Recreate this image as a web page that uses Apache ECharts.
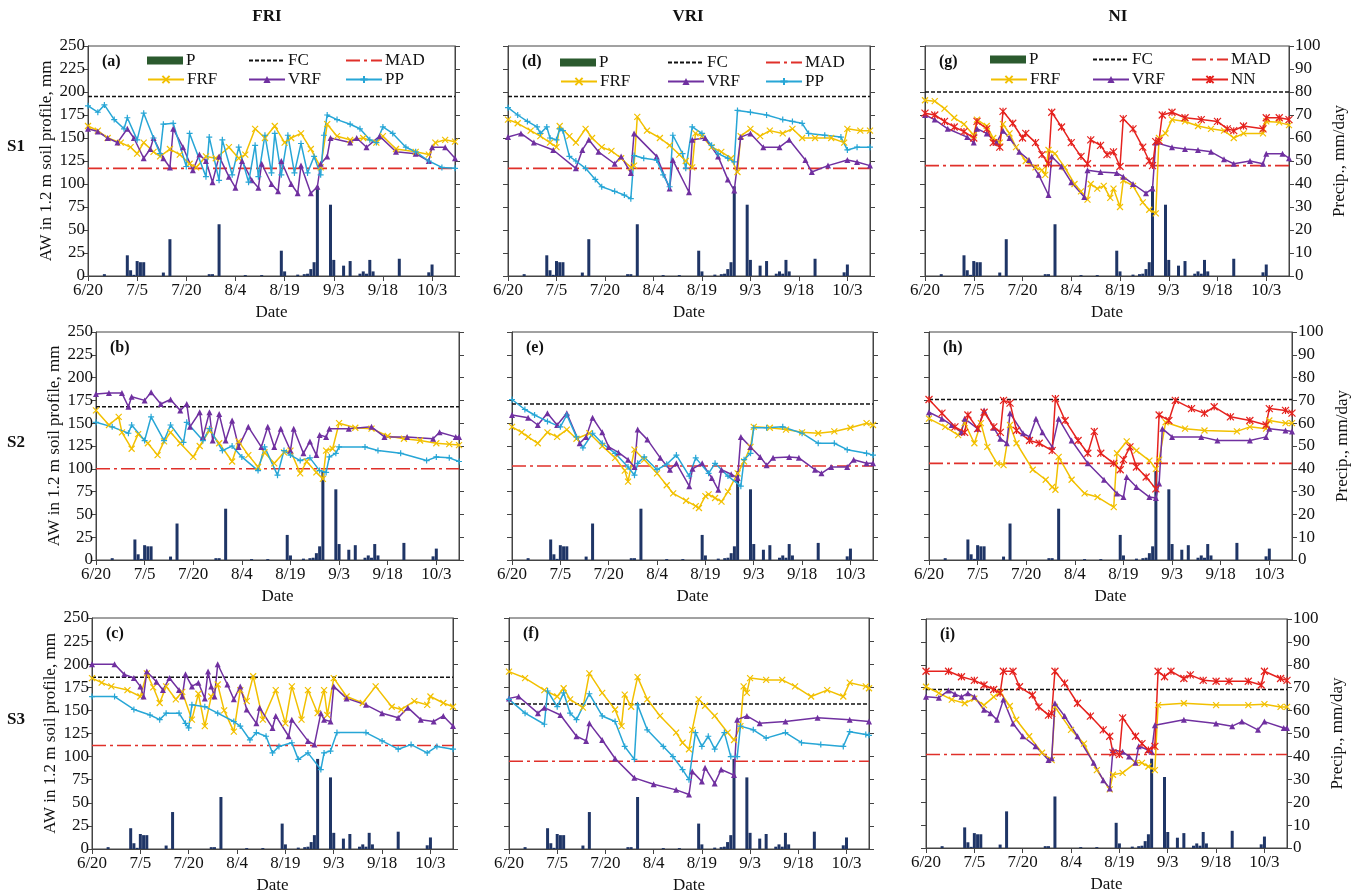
<!DOCTYPE html>
<html>
<head>
<meta charset="utf-8">
<script src="https://cdn.jsdelivr.net/npm/echarts@6/dist/echarts.min.js"></script>
<style>
html, body { margin: 0; background: #fff; }
#chart { width: 1352px; height: 892px; }
</style>
</head>
<body>
<div id="chart"></div>
<script>
// day 0 = 6/20, one tick every 15 days
const dateLabels = ['6/20', '7/5', '7/20', '8/4', '8/19', '9/3', '9/18', '10/3'];

// precipitation, mm/day (right axis)
const precipDays = [5, 12, 13, 14, 15, 16, 17, 23, 25, 37, 38, 40, 48, 53, 59, 60, 64, 66, 67, 68, 69, 70, 74, 75, 78, 80, 83, 84, 85, 86, 87, 95, 104, 105];
const precipMm = [0.8, 9, 2.5, 0.5, 6.5, 6, 6, 1.5, 16, 0.8, 0.8, 22.5, 0.4, 0.4, 11, 2, 0.6, 0.8, 1, 3, 6, 39, 31, 7, 4.5, 6.5, 1, 2, 1, 7, 2, 7.5, 1.6, 5];

// panels a..i : FC and MAD levels (mm)
const panelIds = ['a', 'b', 'c', 'd', 'e', 'f', 'g', 'h', 'i'];
const fcLevel = [195, 168, 186, 195, 171, 157, 200, 176, 173];
const madLevel = [117, 100, 112, 117, 103, 95, 120, 106, 102];

// FRI, S1
const frfA = [[0,163],[3,158],[6,150],[10,145],[13,140],[15,133],[17,145],[20,135],[22,130],[25,138],[28,132],[31,122],[33,118],[36,130],[39,128],[43,140],[46,128],[48,132],[51,160],[54,150],[57,163],[60,145],[62,150],[65,155],[68,138],[71,118],[73,165],[76,152],[80,148],[84,150],[88,145],[90,152],[94,138],[100,135],[104,132],[106,145],[109,148],[112,146]];
const vrfA = [[0,160],[3,157],[6,150],[9,145],[12,160],[14,150],[17,128],[19,138],[20,150],[23,128],[25,118],[26,160],[29,140],[32,115],[34,132],[36,125],[38,102],[40,130],[43,108],[45,96],[47,125],[50,104],[52,96],[53,122],[56,100],[58,92],[59,125],[62,100],[64,90],[65,120],[68,90],[70,97],[71,122],[73,130],[74,150],[80,145],[82,150],[85,140],[89,152],[94,135],[100,133],[104,125],[105,140],[109,140],[112,128]];
const ppA = [[0,185],[3,178],[5,186],[8,170],[11,160],[12,172],[15,148],[17,177],[20,150],[22,133],[23,165],[26,166],[30,119],[31,155],[36,108],[37,151],[40,104],[41,148],[44,110],[46,140],[49,102],[51,142],[52,108],[54,153],[56,112],[57,155],[59,110],[61,153],[63,112],[65,144],[67,112],[69,130],[71,110],[72,153],[73,175],[76,170],[80,165],[83,160],[86,148],[88,145],[90,162],[93,155],[97,140],[100,135],[104,125],[108,118],[112,117]];
// FRI, S2
const frfB = [[0,164],[4,148],[7,157],[8,140],[11,122],[13,138],[16,128],[19,115],[21,130],[23,140],[26,128],[30,113],[32,125],[35,142],[38,128],[42,108],[44,130],[47,115],[50,102],[52,118],[55,106],[58,118],[60,120],[63,95],[65,108],[68,96],[70,89],[71,120],[73,122],[75,150],[80,145],[85,144],[90,136],[95,133],[100,131],[105,128],[109,127],[112,126]];
const vrfB = [[0,182],[4,183],[8,183],[10,168],[11,179],[15,175],[17,184],[20,171],[23,176],[26,164],[28,171],[29,146],[32,162],[33,135],[35,162],[36,131],[38,160],[40,131],[42,153],[44,124],[47,146],[51,124],[53,146],[55,124],[57,144],[60,120],[61,144],[64,117],[66,130],[68,115],[69,137],[71,135],[72,144],[78,144],[85,146],[89,135],[96,135],[104,133],[106,140],[111,135],[112,135]];
const ppB = [[0,151],[5,146],[10,139],[11,148],[15,131],[17,157],[21,131],[23,148],[27,129],[28,151],[33,131],[35,144],[39,120],[42,125],[45,113],[50,98],[52,124],[56,93],[58,120],[60,115],[63,109],[66,112],[69,98],[71,96],[72,113],[74,117],[75,124],[83,124],[87,120],[94,117],[102,109],[105,113],[109,112],[112,108]];
// FRI, S3
const frfC = [[0,185],[3,180],[6,176],[11,172],[15,165],[17,190],[19,175],[21,158],[23,176],[26,162],[28,170],[31,140],[33,168],[35,133],[37,165],[39,178],[41,150],[44,127],[46,172],[48,160],[50,187],[53,140],[57,172],[60,136],[62,176],[65,140],[67,172],[70,147],[72,172],[73,145],[75,185],[79,165],[84,158],[88,176],[93,154],[96,151],[100,160],[104,156],[105,165],[109,158],[112,154]];
const vrfC = [[0,200],[7,200],[10,189],[13,185],[15,176],[16,165],[17,192],[20,181],[22,172],[24,185],[27,172],[28,165],[29,189],[31,176],[33,180],[35,163],[36,192],[37,176],[38,165],[39,200],[42,178],[44,162],[46,176],[48,151],[51,136],[52,153],[56,131],[57,144],[61,122],[62,140],[67,117],[69,113],[71,147],[72,140],[74,138],[75,176],[79,163],[85,156],[90,147],[95,142],[98,153],[102,140],[106,138],[109,144],[112,133]];
const ppC = [[0,165],[7,165],[13,151],[18,145],[21,140],[23,147],[27,147],[29,136],[30,131],[31,156],[35,154],[39,147],[44,138],[46,133],[49,118],[51,126],[54,122],[56,104],[58,111],[62,115],[64,97],[67,104],[71,86],[72,104],[74,106],[76,126],[85,126],[90,117],[95,108],[99,113],[104,104],[107,111],[112,108]];

// VRI, S1
const frfD = [[0,170],[3,166],[7,158],[10,152],[13,145],[15,140],[16,163],[19,152],[21,145],[24,160],[26,150],[29,140],[32,136],[35,128],[38,118],[39,120],[40,173],[43,158],[47,150],[50,142],[53,132],[55,125],[57,118],[58,155],[60,152],[63,140],[66,135],[69,128],[71,113],[72,152],[75,160],[78,152],[81,158],[85,155],[88,160],[91,150],[95,150],[100,150],[104,145],[105,160],[109,158],[112,158]];
const vrfD = [[0,151],[4,155],[8,145],[14,137],[21,117],[23,137],[25,148],[28,135],[33,122],[35,130],[38,112],[39,155],[46,130],[50,95],[51,126],[56,91],[57,148],[61,150],[65,130],[68,105],[70,93],[72,151],[75,155],[79,140],[84,140],[87,148],[92,126],[94,113],[99,120],[105,126],[108,124],[112,120]];
const ppD = [[0,183],[3,175],[6,168],[9,162],[10,155],[12,162],[13,150],[15,148],[16,160],[17,158],[19,130],[21,125],[24,117],[27,105],[29,97],[33,92],[36,88],[38,84],[39,131],[42,128],[46,126],[48,110],[50,97],[51,153],[54,133],[55,117],[57,162],[60,155],[63,142],[65,133],[68,128],[70,124],[71,180],[75,178],[80,175],[85,170],[88,168],[91,166],[93,155],[98,153],[103,151],[105,137],[108,140],[112,140]];
// VRI, S2
const frfE = [[0,146],[3,140],[5,135],[8,128],[11,140],[14,135],[17,143],[20,133],[24,139],[28,125],[32,112],[35,98],[36,86],[38,121],[41,110],[45,95],[48,82],[50,73],[54,65],[57,59],[58,57],[60,70],[61,72],[63,68],[65,64],[67,75],[70,95],[72,108],[74,124],[75,146],[80,145],[85,143],[90,140],[95,139],[100,141],[105,145],[110,150],[112,148]];
const vrfE = [[0,159],[5,156],[8,148],[11,161],[14,148],[17,161],[21,128],[23,135],[25,156],[28,140],[30,124],[33,118],[36,110],[38,102],[39,143],[42,132],[46,112],[49,99],[51,106],[55,81],[56,100],[59,106],[62,90],[64,77],[65,99],[68,94],[70,90],[71,135],[74,124],[77,113],[79,104],[81,112],[86,113],[89,112],[94,99],[96,95],[99,102],[104,102],[106,110],[110,106],[112,106]];
const ppE = [[0,176],[4,165],[7,159],[11,152],[15,146],[17,159],[20,135],[22,123],[25,139],[28,128],[32,117],[36,102],[38,93],[39,106],[41,113],[45,99],[48,105],[51,115],[55,92],[57,112],[61,95],[63,106],[67,92],[71,81],[72,110],[74,117],[75,145],[79,145],[84,146],[90,139],[95,128],[100,128],[104,121],[110,117],[112,115]];
// VRI, S3
const frfF = [[0,192],[5,185],[11,172],[15,165],[17,174],[19,162],[23,153],[25,190],[29,169],[33,151],[35,133],[36,167],[38,154],[40,186],[43,162],[47,144],[52,126],[54,115],[56,108],[57,129],[59,162],[61,155],[64,144],[68,126],[70,118],[72,133],[73,176],[74,169],[75,185],[80,183],[85,183],[89,176],[94,165],[99,172],[104,165],[106,180],[111,176],[112,174]];
const vrfF = [[0,163],[3,165],[9,147],[11,153],[16,145],[21,122],[24,117],[25,136],[29,118],[33,98],[39,77],[45,70],[52,64],[56,59],[57,84],[60,73],[61,88],[64,71],[66,86],[70,80],[71,140],[74,144],[78,136],[86,138],[96,142],[106,140],[112,138]];
const ppF = [[0,162],[5,147],[11,135],[12,171],[15,154],[17,169],[19,147],[21,140],[25,168],[29,144],[33,138],[36,111],[39,97],[40,156],[43,129],[48,111],[51,100],[54,86],[56,75],[58,126],[60,111],[62,122],[64,108],[67,126],[69,100],[71,100],[72,133],[76,129],[80,120],[86,126],[91,115],[97,113],[104,111],[106,127],[111,124],[112,123]];

// NI, S1
const frfG = [[0,191],[3,190],[6,182],[9,172],[12,165],[15,153],[16,170],[19,163],[21,150],[23,145],[24,165],[26,155],[28,140],[31,125],[34,118],[36,115],[37,110],[38,137],[40,133],[43,118],[46,100],[48,92],[50,83],[51,100],[53,95],[55,98],[57,85],[58,95],[60,75],[61,104],[64,98],[67,80],[69,72],[71,68],[72,150],[74,155],[76,170],[80,168],[84,163],[88,160],[92,158],[95,150],[98,155],[104,155],[105,168],[109,167],[112,164]];
const vrfG = [[0,175],[3,170],[7,160],[13,151],[15,145],[16,160],[19,155],[22,145],[24,158],[26,150],[29,135],[32,126],[35,110],[38,88],[39,130],[42,119],[45,102],[49,86],[50,115],[54,113],[59,112],[61,108],[64,100],[68,90],[70,95],[71,145],[76,140],[80,138],[84,137],[88,135],[92,127],[95,122],[100,125],[104,122],[105,133],[110,133],[112,128]];
const nnG = [[0,177],[3,175],[6,168],[9,162],[12,157],[15,150],[16,168],[19,160],[21,145],[23,140],[24,179],[27,166],[30,150],[31,155],[34,145],[36,132],[38,122],[39,178],[42,162],[45,145],[48,130],[50,122],[51,148],[54,142],[56,132],[58,135],[60,119],[61,171],[64,160],[67,140],[69,125],[70,120],[71,146],[72,147],[73,175],[76,178],[80,172],[85,170],[90,168],[93,160],[95,158],[98,163],[104,160],[105,172],[109,172],[112,170]];
// NI, S2
const frfH = [[0,155],[5,146],[9,137],[11,150],[14,128],[16,150],[18,124],[21,106],[23,104],[25,148],[27,128],[32,99],[36,88],[38,80],[39,77],[40,113],[44,88],[48,73],[52,69],[57,58],[58,117],[61,130],[64,120],[68,109],[70,100],[71,110],[73,151],[79,144],[85,142],[95,141],[99,146],[104,144],[105,153],[110,150],[112,150]];
const vrfH = [[0,162],[4,155],[7,148],[10,140],[11,155],[15,144],[17,164],[20,145],[22,133],[24,128],[25,161],[29,139],[31,135],[33,155],[35,140],[38,124],[40,155],[44,131],[49,106],[54,88],[58,73],[60,69],[61,91],[64,80],[68,69],[70,68],[71,84],[72,144],[75,135],[84,135],[89,131],[99,131],[104,135],[105,144],[110,142],[112,141]];
const nnH = [[0,176],[4,161],[8,146],[11,140],[12,159],[15,144],[17,162],[20,146],[22,140],[23,175],[25,172],[27,142],[31,131],[34,128],[38,120],[39,177],[42,153],[46,131],[49,117],[51,141],[53,117],[57,106],[59,99],[60,110],[62,124],[64,102],[67,91],[70,78],[71,159],[74,153],[76,175],[81,166],[85,161],[88,168],[93,157],[99,153],[104,148],[105,166],[110,164],[112,161]];
// NI, S3
const frfI = [[0,176],[4,169],[8,162],[12,158],[15,163],[18,156],[21,165],[23,170],[26,155],[28,140],[32,122],[36,104],[39,96],[40,154],[45,129],[49,114],[53,85],[57,64],[58,80],[61,82],[65,93],[67,93],[69,89],[71,85],[72,156],[80,158],[90,156],[100,156],[105,157],[110,154],[112,154]];
const vrfI = [[0,165],[4,164],[7,172],[9,168],[11,165],[13,169],[15,165],[18,151],[20,147],[22,140],[24,162],[27,136],[30,122],[34,111],[38,96],[39,98],[40,158],[43,144],[47,122],[52,93],[55,74],[57,65],[58,107],[61,105],[63,100],[65,93],[66,111],[69,107],[70,105],[71,134],[80,140],[90,136],[95,133],[98,138],[103,129],[105,138],[111,131],[112,131]];
const nnI = [[0,193],[7,193],[11,187],[15,183],[18,178],[21,173],[23,169],[24,193],[27,193],[29,176],[33,167],[35,154],[38,145],[39,147],[40,193],[43,180],[47,158],[51,144],[55,129],[57,122],[58,104],[60,102],[61,142],[65,122],[67,114],[69,107],[71,111],[72,193],[74,187],[76,193],[80,185],[82,189],[86,183],[90,182],[94,182],[100,182],[104,178],[105,193],[110,185],[112,183]];

const FONT = '"Liberation Serif", "Times New Roman", serif';
const C_FRF = '#f2c000', C_VRF = '#7030a0', C_PP = '#27a6d6', C_NN = '#e5221e';
const symX = 'path://M0,0L10,10M0,10L10,0';
const symPlus = 'path://M5,0L5,10M0,5L10,5';
const symStar = 'path://M0,0L10,10M0,10L10,0M5,0L5,10';

// page boxes for the nine plot areas [left, top, width, height]
const panels = [
  { box: [88, 46, 367, 230],  lines: [frfA, vrfA, ppA], third: 'PP' },
  { box: [96, 332, 363, 228], lines: [frfB, vrfB, ppB], third: 'PP' },
  { box: [92, 618, 361, 231], lines: [frfC, vrfC, ppC], third: 'PP' },
  { box: [508, 46, 362, 230], lines: [frfD, vrfD, ppD], third: 'PP' },
  { box: [512, 332, 361, 228], lines: [frfE, vrfE, ppE], third: 'PP' },
  { box: [509, 618, 360, 231], lines: [frfF, vrfF, ppF], third: 'PP' },
  { box: [925, 46, 364, 230], lines: [frfG, vrfG, nnG], third: 'NN' },
  { box: [929, 332, 363, 228], lines: [frfH, vrfH, nnH], third: 'NN' },
  { box: [926, 619, 361, 229], lines: [frfI, vrfI, nnI], third: 'NN' }
];

const axisCol = '#444';
const option = {
  animation: false,
  backgroundColor: '#fff',
  textStyle: { fontFamily: FONT },
  grid: [], xAxis: [], yAxis: [], series: [], legend: [], graphic: []
};

function markerLine(name, data, color, symbol, size, k, filled) {
  return {
    type: 'line', name: name, xAxisIndex: k, yAxisIndex: 2 * k, data: data,
    symbol: symbol, symbolSize: size, showSymbol: true,
    lineStyle: { color: color, width: 1.5 },
    itemStyle: filled ? { color: color } : { color: color, borderColor: color, borderWidth: 1.2 },
    z: 3
  };
}

panels.forEach(function (p, k) {
  const col = Math.floor(k / 3);
  option.grid.push({
    left: p.box[0], top: p.box[1], width: p.box[2], height: p.box[3],
    show: true, borderColor: axisCol, borderWidth: 1, containLabel: false, outerBoundsMode: 'none'
  });
  option.xAxis.push({
    type: 'value', gridIndex: k, min: 0, max: 112, interval: 15,
    name: 'Date', nameLocation: 'middle', nameGap: 28,
    nameTextStyle: { fontSize: 17, color: '#111', fontFamily: FONT },
    axisLine: { lineStyle: { color: axisCol } },
    axisTick: { length: 5, lineStyle: { color: axisCol } },
    axisLabel: {
      fontSize: 17, color: '#111', fontFamily: FONT, margin: 6, showMaxLabel: false,
      formatter: function (v) { return v % 15 === 0 ? dateLabels[v / 15] : ''; }
    },
    splitLine: { show: false }
  });
  option.yAxis.push({
    type: 'value', gridIndex: k, min: 0, max: 250, interval: 25, position: 'left',
    name: col === 0 ? 'AW in 1.2 m soil profile, mm' : '',
    nameLocation: 'middle', nameGap: 33, nameRotate: 90,
    nameTextStyle: { fontSize: 17, color: '#111', fontFamily: FONT },
    axisLine: { show: true, lineStyle: { color: axisCol } },
    axisTick: { show: true, length: 5, lineStyle: { color: axisCol } },
    axisLabel: { show: col === 0, fontSize: 17, color: '#111', fontFamily: FONT, margin: 3 },
    splitLine: { show: false }
  });
  option.yAxis.push({
    type: 'value', gridIndex: k, min: 0, max: 100, interval: 10, position: 'right',
    name: col === 2 ? 'Precip., mm/day' : '',
    nameLocation: 'middle', nameGap: 42, nameRotate: 90,
    nameTextStyle: { fontSize: 17, color: '#111', fontFamily: FONT },
    axisLine: { show: true, lineStyle: { color: axisCol } },
    axisTick: { show: true, length: 5, lineStyle: { color: axisCol } },
    axisLabel: { show: col === 2, fontSize: 17, color: '#111', fontFamily: FONT, margin: 6 },
    splitLine: { show: false }
  });

  option.series.push({
    type: 'bar', name: 'P', xAxisIndex: k, yAxisIndex: 2 * k + 1,
    data: precipDays.map(function (d, i) { return [d, precipMm[i]]; }),
    barWidth: 3, itemStyle: { color: '#1f3566' }, z: 2
  });
  option.series.push({
    type: 'line', name: 'FC', xAxisIndex: k, yAxisIndex: 2 * k,
    data: [[0, fcLevel[k]], [112, fcLevel[k]]], symbol: 'none',
    itemStyle: { color: '#111' },
    lineStyle: { color: '#111', width: 1.5, type: [4, 2] }, z: 2
  });
  option.series.push({
    type: 'line', name: 'MAD', xAxisIndex: k, yAxisIndex: 2 * k,
    data: [[0, madLevel[k]], [112, madLevel[k]]], symbol: 'none',
    itemStyle: { color: '#e0302a' },
    lineStyle: { color: '#e0302a', width: 1.6, type: [14, 4, 3, 4] }, z: 2
  });
  option.series.push(markerLine('FRF', p.lines[0], C_FRF, symX, 6, k, false));
  option.series.push(markerLine('VRF', p.lines[1], C_VRF, 'triangle', 6, k, true));
  if (p.third === 'PP') {
    option.series.push(markerLine('PP', p.lines[2], C_PP, symPlus, 6, k, false));
  } else {
    option.series.push(markerLine('NN', p.lines[2], C_NN, symStar, 7, k, false));
  }

  // panel letter
  option.graphic.push({
    type: 'text', x: p.box[0] + 14, y: p.box[1] + 16,
    style: { text: '(' + panelIds[k] + ')', font: 'bold 16px ' + FONT, fill: '#111', textVerticalAlign: 'middle' }
  });
});

// legends in the top row
const legendCols = [[147, 248, 345], [560, 667, 765], [990, 1092, 1191]];
const legendRows = [[52, 71], [54, 73], [51, 71]];
const legendNames = [['P', 'FC', 'MAD', 'FRF', 'VRF', 'PP'], ['P', 'FC', 'MAD', 'FRF', 'VRF', 'PP'], ['P', 'FC', 'MAD', 'FRF', 'VRF', 'NN']];
legendNames.forEach(function (names, c) {
  names.forEach(function (nm, j) {
    let item = { name: nm };
    if (nm === 'P') item = { name: 'P', icon: 'rect', itemStyle: { color: '#2b5a2e' } };
    if (nm === 'FC' || nm === 'MAD') item = { name: nm, itemStyle: { opacity: 0 } };
    option.legend.push({
      data: [item], left: legendCols[c][j % 3], top: legendRows[c][Math.floor(j / 3)],
      padding: 0, itemGap: 0, itemWidth: 36, itemHeight: nm === 'P' ? 8 : 9,
      selectedMode: false,
      textStyle: { fontSize: 17, color: '#111', fontFamily: FONT, padding: [0, 0, 0, -2] }
    });
  });
});

// column and row headings
[['FRI', 267], ['VRI', 688], ['NI', 1118]].forEach(function (t) {
  option.graphic.push({ type: 'text', x: t[1], y: 17,
    style: { text: t[0], font: 'bold 17px ' + FONT, fill: '#111', textAlign: 'center', textVerticalAlign: 'middle' } });
});
[['S1', 147], ['S2', 443], ['S3', 720]].forEach(function (t) {
  option.graphic.push({ type: 'text', x: 16, y: t[1],
    style: { text: t[0], font: 'bold 17px ' + FONT, fill: '#111', textAlign: 'center', textVerticalAlign: 'middle' } });
});

const chart = echarts.init(document.getElementById('chart'), null, { renderer: 'canvas' });
chart.setOption(option);
</script>
</body>
</html>
